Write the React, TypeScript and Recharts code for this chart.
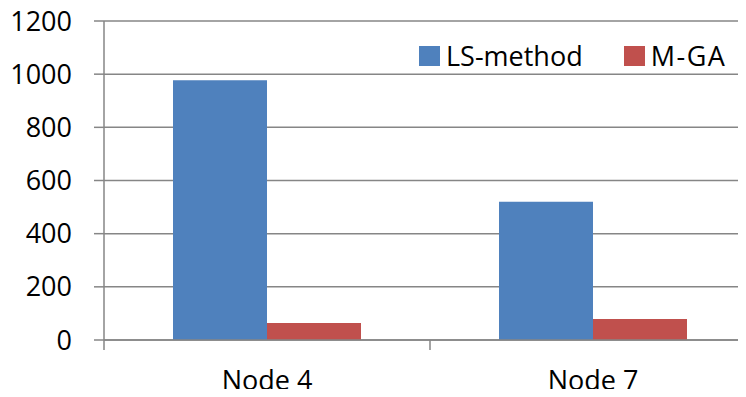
import { BarChart, Bar, XAxis, YAxis, CartesianGrid } from "recharts";

const NODES = ["Node 4", "Node 7"];
const LS_METHOD = [977, 520];
const M_GA = [64, 79];
const Y_TICKS = [0, 200, 400, 600, 800, 1000, 1200];

const SERIES = [
  { key: "ls", name: "LS-method", color: "#4F81BD" },
  { key: "mga", name: "M-GA", color: "#C0504D" },
];

const data = NODES.map((node, i) => ({ node, ls: LS_METHOD[i], mga: M_GA[i] }));

const FONT = "'Open Sans', sans-serif";
const AXIS_GREY = "#868686";

// category tick: line on the band's left edge, label in its centre
function NodeTick(props: any) {
  const { x, y, payload } = props;
  const left = x - (payload?.offset ?? 0);
  return (
    <g>
      <line x1={left} y1={y} x2={left} y2={y + 10} stroke={AXIS_GREY} strokeWidth={1.5} />
      <text x={x} y={y + 50} textAnchor="middle" fill="#000" fontSize={27} fontFamily={FONT}>
        {payload.value}
      </text>
    </g>
  );
}

// legend sits inside the plot, top right, like the Excel original
function ChartLegend() {
  return (
    <div style={{ position: "absolute", top: 41, left: 419, display: "flex", alignItems: "center", fontFamily: FONT, fontSize: 27, color: "#000" }}>
      {SERIES.map((s, i) => (
        <div key={s.key} style={{ display: "flex", alignItems: "center", marginLeft: i ? 41 : 0 }}>
          <span style={{ width: 21, height: 20, background: s.color, display: "inline-block", marginRight: 6 }} />
          <span style={{ lineHeight: "30px", letterSpacing: i ? 1.5 : 0 }}>{s.name}</span>
        </div>
      ))}
    </div>
  );
}

export default function App() {
  return (
    <div style={{ margin: -8, width: 746, height: 397, overflow: "hidden", background: "#fff", position: "relative" }}>
      <BarChart
        width={762}
        height={397}
        data={data}
        margin={{ top: 21, right: 6, bottom: 0, left: 0 }}
        barCategoryGap={69}
        barGap={0}
      >
        <CartesianGrid vertical={false} stroke={AXIS_GREY} strokeWidth={1.5} />
        <XAxis
          dataKey="node"
          height={57}
          axisLine={{ stroke: AXIS_GREY, strokeWidth: 1.5 }}
          tickLine={false}
          tickSize={0}
          tickMargin={0}
          tick={<NodeTick />}
          interval={0}
        />
        <YAxis
          width={104}
          domain={[0, 1200]}
          ticks={Y_TICKS}
          interval={0}
          axisLine={{ stroke: AXIS_GREY, strokeWidth: 1.5 }}
          tickLine={{ stroke: AXIS_GREY, strokeWidth: 1.5 }}
          tickSize={10}
          tickMargin={22}
          tick={{ fill: "#000", fontSize: 27, fontFamily: FONT }}
        />
        {SERIES.map((s) => (
          <Bar key={s.key} dataKey={s.key} name={s.name} fill={s.color} isAnimationActive={false} />
        ))}
      </BarChart>
      <ChartLegend />
    </div>
  );
}
